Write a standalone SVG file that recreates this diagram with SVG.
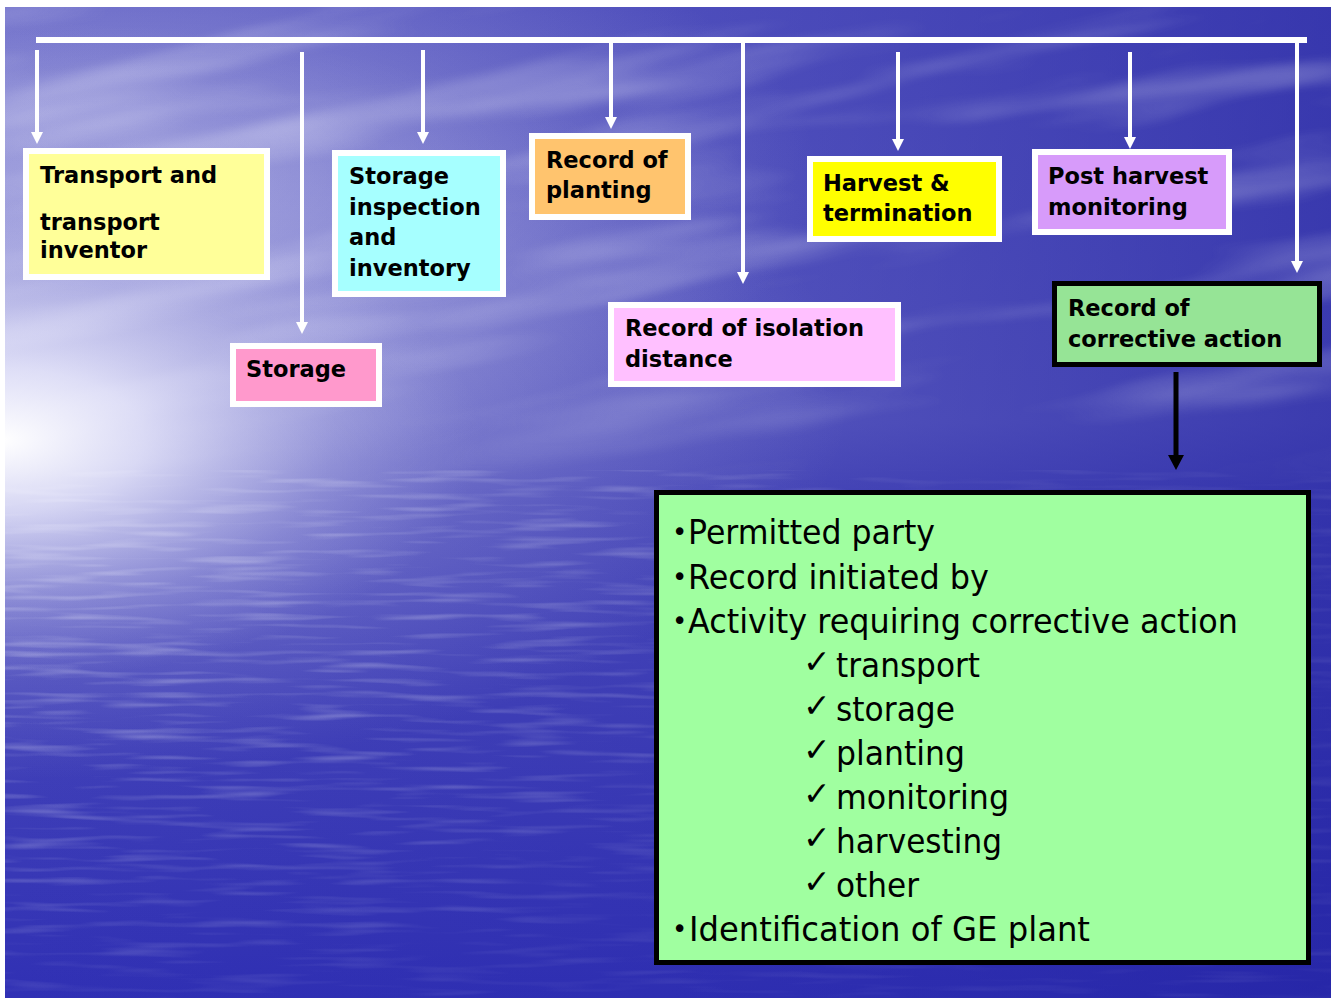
<svg xmlns="http://www.w3.org/2000/svg" width="1333" height="1000" viewBox="0 0 1333 1000">
  <style>
    .box { stroke: #ffffff; stroke-width: 6; }
    .boxk { stroke: #000000; stroke-width: 5; }
    .lbl { font-family: "DejaVu Sans", "Liberation Sans", sans-serif; font-weight: bold; font-size: 22.5px; fill: #000000; }
    .lst { font-family: "DejaVu Sans", "Liberation Sans", sans-serif; font-size: 34px; fill: #000000; }
    .dot { font-family: "DejaVu Sans", "Liberation Sans", sans-serif; font-size: 26px; fill: #000000; }
    .chk { font-family: "DejaVu Sans", sans-serif; font-size: 33px; fill: #000000; }
    .wire { stroke: #ffffff; stroke-width: 4; fill: none; }
  </style>
  <defs>
    <marker id="headW" markerUnits="userSpaceOnUse" viewBox="0 -6 12 12" refX="0" refY="0" markerWidth="12" markerHeight="12" orient="auto">
      <path d="M0,-6 L12,0 L0,6 z" fill="#ffffff"/>
    </marker>
    <marker id="headK" markerUnits="userSpaceOnUse" viewBox="0 -8 15 16" refX="0" refY="0" markerWidth="15" markerHeight="16" orient="auto">
      <path d="M0,-8 L15,0 L0,8 z" fill="#000000"/>
    </marker>
    <linearGradient id="skyV" x1="0" y1="0" x2="0" y2="1">
      <stop offset="0" stop-color="#5a5ac2"/>
      <stop offset="0.42" stop-color="#6464c4"/>
      <stop offset="0.5" stop-color="#5050bc"/>
      <stop offset="1" stop-color="#3030b4"/>
    </linearGradient>
    <linearGradient id="shadeH" x1="0" y1="0" x2="1" y2="0">
      <stop offset="0" stop-color="#2828a8" stop-opacity="0"/>
      <stop offset="0.5" stop-color="#2828a8" stop-opacity="0.25"/>
      <stop offset="1" stop-color="#2020a0" stop-opacity="0.6"/>
    </linearGradient>
    <radialGradient id="glow" gradientUnits="userSpaceOnUse" cx="0" cy="0" r="1" gradientTransform="translate(0 440) scale(480 240)">
      <stop offset="0" stop-color="#ffffff" stop-opacity="1"/>
      <stop offset="0.3" stop-color="#f2f2ff" stop-opacity="0.75"/>
      <stop offset="0.7" stop-color="#d8d8f4" stop-opacity="0.25"/>
      <stop offset="1" stop-color="#c8c8f0" stop-opacity="0"/>
    </radialGradient>
    <radialGradient id="haze" gradientUnits="userSpaceOnUse" cx="0" cy="0" r="1" gradientTransform="translate(0 400) scale(850 380)">
      <stop offset="0" stop-color="#e0e0f8" stop-opacity="0.45"/>
      <stop offset="1" stop-color="#e0e0f8" stop-opacity="0"/>
    </radialGradient>
    <radialGradient id="skyLight" gradientUnits="userSpaceOnUse" cx="0" cy="0" r="1" gradientTransform="translate(120 180) scale(700 300)">
      <stop offset="0" stop-color="#d0d0f0" stop-opacity="0.5"/>
      <stop offset="1" stop-color="#d0d0f0" stop-opacity="0"/>
    </radialGradient>
    <linearGradient id="skyFade" x1="0" y1="0" x2="0" y2="1">
      <stop offset="0" stop-color="#ffffff" stop-opacity="0.9"/>
      <stop offset="0.75" stop-color="#ffffff" stop-opacity="0.9"/>
      <stop offset="1" stop-color="#ffffff" stop-opacity="0"/>
    </linearGradient>
    <mask id="skyMask">
      <rect x="5" y="7" width="1326" height="480" fill="url(#skyFade)"/>
    </mask>
    <radialGradient id="waterFade" gradientUnits="userSpaceOnUse" cx="0" cy="0" r="1" gradientTransform="translate(60 560) scale(900 460)">
      <stop offset="0" stop-color="#ffffff" stop-opacity="1"/>
      <stop offset="0.6" stop-color="#ffffff" stop-opacity="0.6"/>
      <stop offset="1" stop-color="#ffffff" stop-opacity="0.2"/>
    </radialGradient>
    <mask id="waterMask">
      <rect x="5" y="470" width="1326" height="528" fill="url(#waterFade)"/>
    </mask>
    <filter id="ripples" x="0" y="0" width="100%" height="100%">
      <feTurbulence type="fractalNoise" baseFrequency="0.01 0.14" numOctaves="2" seed="7"/>
      <feColorMatrix type="matrix" values="0 0 0 0 1  0 0 0 0 1  0 0 0 0 1  3 0 0 0 -1.5"/>
      <feGaussianBlur stdDeviation="0.6"/>
    </filter>
    <filter id="clouds" x="0" y="0" width="100%" height="100%">
      <feTurbulence type="fractalNoise" baseFrequency="0.0025 0.02" numOctaves="3" seed="11"/>
      <feColorMatrix type="matrix" values="0 0 0 0 0.92  0 0 0 0 0.92  0 0 0 0 1  2.4 0 0 0 -1.15"/>
      <feGaussianBlur stdDeviation="3"/>
    </filter>
  </defs>

  <!-- page and backdrop -->
  <rect width="1333" height="1000" fill="#ffffff"/>
  <g id="backdrop">
    <rect x="5" y="7" width="1326" height="991" fill="url(#skyV)"/>
    <rect x="5" y="7" width="1326" height="991" fill="url(#shadeH)"/>
    <rect x="5" y="7" width="1326" height="480" fill="url(#skyLight)"/>
    <g mask="url(#skyMask)">
      <g transform="rotate(-9 660 240)">
        <rect x="-150" y="-150" width="1650" height="800" filter="url(#clouds)" opacity="0.4"/>
      </g>
    </g>
    <rect x="5" y="470" width="1326" height="528" filter="url(#ripples)" mask="url(#waterMask)" opacity="0.32"/>
    <rect x="5" y="7" width="1326" height="991" fill="url(#haze)"/>
    <rect x="5" y="7" width="1326" height="991" fill="url(#glow)"/>
  </g>

  <!-- connectors -->
  <g id="connectors">
    <rect x="36" y="37" width="1271" height="6" fill="#ffffff"/>
    <line class="wire" x1="37" y1="50" x2="37" y2="132" marker-end="url(#headW)"/>
    <line class="wire" x1="302" y1="52" x2="302" y2="322" marker-end="url(#headW)"/>
    <line class="wire" x1="423" y1="50" x2="423" y2="132" marker-end="url(#headW)"/>
    <line class="wire" x1="611" y1="43" x2="611" y2="117" marker-end="url(#headW)"/>
    <line class="wire" x1="743" y1="43" x2="743" y2="272" marker-end="url(#headW)"/>
    <line class="wire" x1="898" y1="52" x2="898" y2="139" marker-end="url(#headW)"/>
    <line class="wire" x1="1130" y1="52" x2="1130" y2="137" marker-end="url(#headW)"/>
    <line class="wire" x1="1297" y1="43" x2="1297" y2="261" marker-end="url(#headW)"/>
    <line x1="1176" y1="372" x2="1176" y2="455" stroke="#000000" stroke-width="5" marker-end="url(#headK)"/>
  </g>

  <!-- record nodes -->
  <g id="transport">
    <rect class="box" x="26" y="151" width="241" height="126" fill="#ffff99"/>
    <text class="lbl" x="40" y="183">Transport and</text>
    <text class="lbl" x="40" y="230">transport</text>
    <text class="lbl" x="40" y="258">inventor</text>
  </g>
  <g id="storage-inspection">
    <rect class="box" x="335" y="153" width="168" height="141" fill="#a6ffff"/>
    <text class="lbl" x="349" y="184">Storage</text>
    <text class="lbl" x="349" y="214.5">inspection</text>
    <text class="lbl" x="349" y="245">and</text>
    <text class="lbl" x="349" y="275.5">inventory</text>
  </g>
  <g id="planting">
    <rect class="box" x="532" y="136" width="156" height="81" fill="#ffc46e"/>
    <text class="lbl" x="546" y="168">Record of</text>
    <text class="lbl" x="546" y="198">planting</text>
  </g>
  <g id="harvest">
    <rect class="box" x="810" y="159" width="189" height="80" fill="#ffff00"/>
    <text class="lbl" x="823" y="191">Harvest &amp;</text>
    <text class="lbl" x="823" y="221">termination</text>
  </g>
  <g id="post-harvest">
    <rect class="box" x="1035" y="152" width="194" height="80" fill="#d79bfa"/>
    <text class="lbl" x="1048" y="184">Post harvest</text>
    <text class="lbl" x="1048" y="215">monitoring</text>
  </g>
  <g id="storage">
    <rect class="box" x="233" y="346" width="146" height="58" fill="#ff99cc"/>
    <text class="lbl" x="246" y="377">Storage</text>
  </g>
  <g id="isolation">
    <rect class="box" x="611" y="305" width="287" height="79" fill="#ffc0ff"/>
    <text class="lbl" x="625" y="336">Record of isolation</text>
    <text class="lbl" x="625" y="367">distance</text>
  </g>
  <g id="corrective">
    <rect class="boxk" x="1054.5" y="283.5" width="265" height="81" fill="#96e496"/>
    <text class="lbl" x="1068" y="316">Record of</text>
    <text class="lbl" x="1068" y="347">corrective action</text>
  </g>

  <!-- corrective action details -->
  <g id="details">
    <rect class="boxk" x="656.5" y="492.5" width="652" height="470" fill="#a0ffa0"/>
    <text class="dot" x="672" y="541">•</text>
    <text class="lst" x="688" y="544" textLength="247" lengthAdjust="spacingAndGlyphs">Permitted party</text>
    <text class="dot" x="672" y="586">•</text>
    <text class="lst" x="688" y="589" textLength="301" lengthAdjust="spacingAndGlyphs">Record initiated by</text>
    <text class="dot" x="672" y="630">•</text>
    <text class="lst" x="688" y="633" textLength="550" lengthAdjust="spacingAndGlyphs">Activity requiring corrective action</text>
    <text class="chk" x="803" y="673">✓</text>
    <text class="lst" x="836" y="677" textLength="144" lengthAdjust="spacingAndGlyphs">transport</text>
    <text class="chk" x="803" y="717">✓</text>
    <text class="lst" x="836" y="721" textLength="119" lengthAdjust="spacingAndGlyphs">storage</text>
    <text class="chk" x="803" y="761">✓</text>
    <text class="lst" x="836" y="765" textLength="129" lengthAdjust="spacingAndGlyphs">planting</text>
    <text class="chk" x="803" y="805">✓</text>
    <text class="lst" x="836" y="809" textLength="173" lengthAdjust="spacingAndGlyphs">monitoring</text>
    <text class="chk" x="803" y="849">✓</text>
    <text class="lst" x="836" y="853" textLength="166" lengthAdjust="spacingAndGlyphs">harvesting</text>
    <text class="chk" x="803" y="893">✓</text>
    <text class="lst" x="836" y="897" textLength="83" lengthAdjust="spacingAndGlyphs">other</text>
    <text class="dot" x="672" y="938">•</text>
    <text class="lst" x="689" y="941" textLength="401" lengthAdjust="spacingAndGlyphs">Identification of GE plant</text>
  </g>
</svg>
